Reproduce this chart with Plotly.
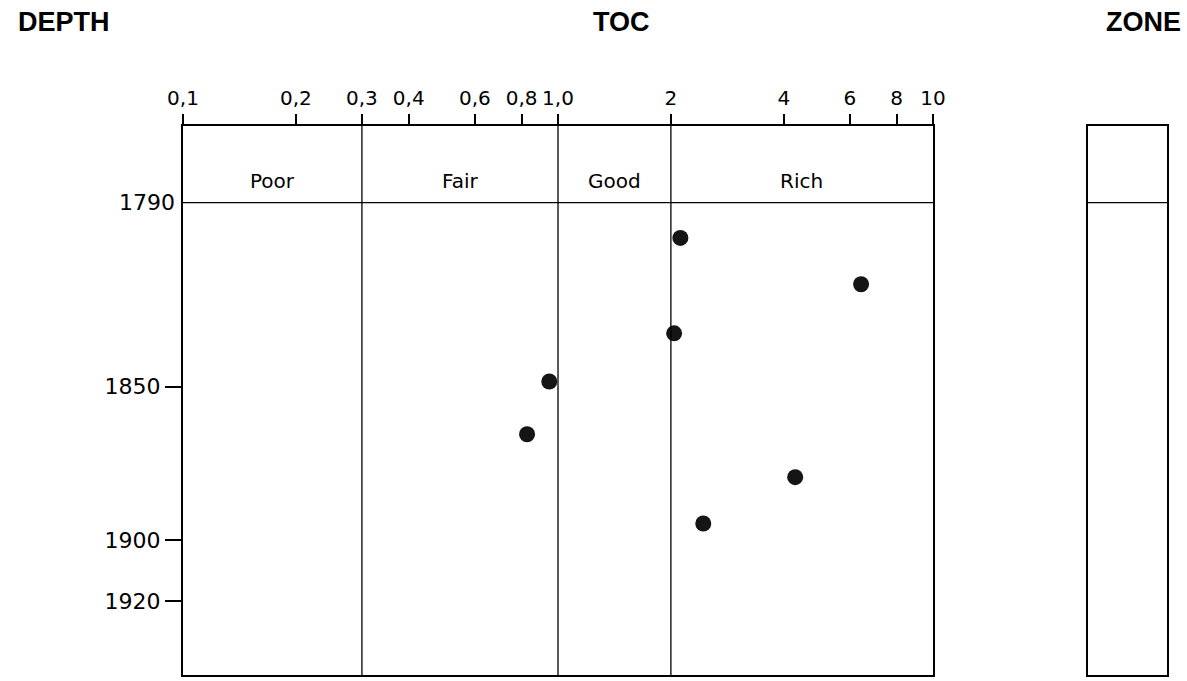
import math
import plotly.graph_objects as go

# TOC measurements (wt %) against sample depth (m)
toc = [2.12, 6.43, 2.04, 0.948, 0.827, 4.29, 2.44]
depth = [1801.5, 1816.6, 1832.6, 1848.3, 1865.5, 1879.5, 1894.6]

# Axis ticks
toc_ticks = [0.1, 0.2, 0.3, 0.4, 0.6, 0.8, 1.0, 2, 4, 6, 8, 10]
toc_tick_text = ["0,1", "0,2", "0,3", "0,4", "0,6", "0,8", "1,0", "2", "4", "6", "8", "10"]
depth_ticks = [1850, 1900, 1920]
header_depth = 1790

# Source-rock richness classes
class_bounds = [0.1, 0.3, 1.0, 2.0, 10.0]
class_names = ["Poor", "Fair", "Good", "Rich"]

W, H = 1187, 681
L, R, T, B = 183, 20, 126, 4
PW, PH = W - L - R, H - T - B
FONT = "DejaVu Sans, Verdana, sans-serif"
TITLE_FONT = "Liberation Sans, Arial, sans-serif"
depth_top, depth_bottom = 1765, 1944


def px(xpix):
    return (xpix - L) / PW


def py(ypix):
    return (H - B - ypix) / PH


fig = go.Figure()
fig.add_trace(go.Scatter(
    x=toc, y=depth, mode="markers", xaxis="x", yaxis="y",
    marker=dict(size=16, color="#151515", line=dict(width=0)),
    showlegend=False, cliponaxis=False,
))
# empty trace so the zone column gets drawn
fig.add_trace(go.Scatter(x=[], y=[], xaxis="x2", yaxis="y2", showlegend=False))

axis_line = dict(showline=True, linecolor="black", linewidth=2, mirror=True,
                 showgrid=False, zeroline=False)

fig.update_layout(
    width=W, height=H,
    margin=dict(l=L, r=R, t=T, b=B),
    paper_bgcolor="white", plot_bgcolor="white",
    font=dict(family=FONT, color="black"),
    xaxis=dict(
        type="log", range=[-1, 1], domain=[0, px(933)], side="top", anchor="y",
        tickvals=toc_ticks, ticktext=toc_tick_text,
        ticks="outside", ticklen=10, tickwidth=2, tickcolor="black",
        tickfont=dict(family=FONT, size=20), ticklabelstandoff=1,
        **axis_line,
    ),
    yaxis=dict(
        range=[depth_bottom, depth_top], domain=[0, 1], anchor="x",
        tickvals=depth_ticks, ticks="outside", ticklen=16, tickwidth=2,
        tickcolor="black", tickfont=dict(family=FONT, size=22),
        **axis_line,
    ),
    xaxis2=dict(domain=[px(1088), 1], range=[0, 1], anchor="y2",
                showticklabels=False, ticks="", **axis_line),
    yaxis2=dict(domain=[0, 1], range=[depth_bottom, depth_top], anchor="x2",
                showticklabels=False, ticks="", **axis_line),
)

thin = dict(color="black", width=1.3)
shapes = []
for b in class_bounds[1:-1]:
    shapes.append(dict(type="line", xref="x", yref="y domain",
                       x0=b, x1=b, y0=0, y1=1, line=thin))
shapes.append(dict(type="line", xref="x domain", yref="y",
                   x0=0, x1=1, y0=header_depth, y1=header_depth, line=thin))
shapes.append(dict(type="line", xref="x2 domain", yref="y2",
                   x0=0, x1=1, y0=header_depth, y1=header_depth, line=thin))
fig.update_layout(shapes=shapes)

annotations = []
label_depth = header_depth - 0.28 * (header_depth - depth_top)
for name, lo, hi in zip(class_names, class_bounds[:-1], class_bounds[1:]):
    annotations.append(dict(
        x=math.log10(math.sqrt(lo * hi)), y=label_depth, xref="x", yref="y",
        text=name, showarrow=False, xanchor="center", yanchor="middle",
        font=dict(family=FONT, size=20),
    ))
annotations.append(dict(
    x=px(177), y=header_depth, xref="paper", yref="y", text=str(header_depth),
    showarrow=False, xanchor="right", yanchor="middle",
    font=dict(family=FONT, size=22),
))
title_font = dict(family=TITLE_FONT, size=27, color="black")
for text, xpix, anchor in [("DEPTH", 16, "left"), ("TOC", 621, "center"), ("ZONE", 1183, "right")]:
    annotations.append(dict(
        x=px(xpix), y=py(22), xref="paper", yref="paper", text=f"<b>{text}</b>",
        showarrow=False, xanchor=anchor, yanchor="middle", font=title_font,
    ))
fig.update_layout(annotations=annotations)

fig.write_html("out.html")
